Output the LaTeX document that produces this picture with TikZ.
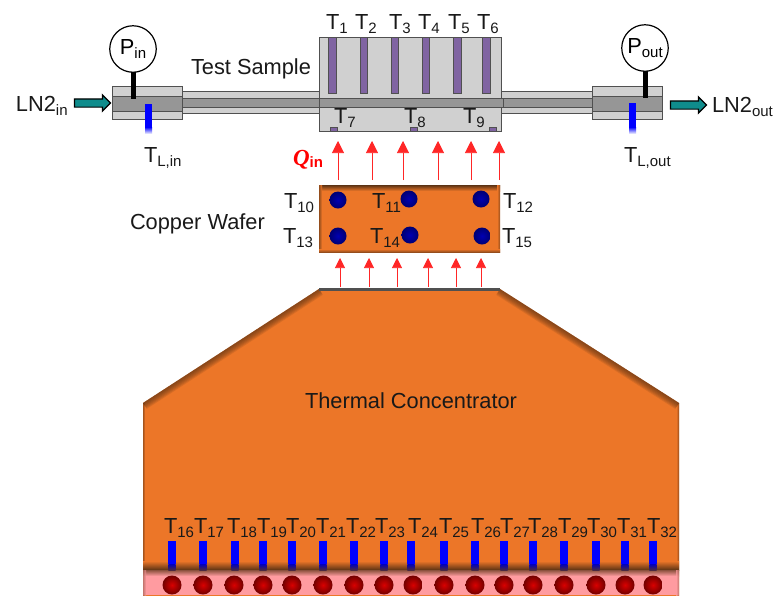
\documentclass[tikz,border=0pt]{standalone}
\usepackage{fontspec}
\setmainfont{Liberation Sans}
\newfontfamily\qfont{Liberation Serif}
\usepackage{tikz}
\usetikzlibrary{arrows.meta,positioning,shapes.arrows}

\definecolor{copper}{RGB}{236,118,40}
\definecolor{rim}{RGB}{90,50,20}
\definecolor{lightbar}{RGB}{208,208,208}
\definecolor{darkbar}{RGB}{150,150,150}
\definecolor{edgegrey}{RGB}{80,80,80}
\definecolor{sensor}{RGB}{128,100,162}
\definecolor{flow}{RGB}{15,140,140}
\definecolor{heater}{RGB}{255,155,160}

\newcommand{\lowtxt}[1]{\raisebox{-4.5pt}{\fontsize{15}{15}\selectfont #1}}

\begin{document}
\begin{tikzpicture}[
  x=1pt, y=-1pt,
  every node/.style={inner sep=0pt, outer sep=0pt},
  txt/.style={anchor=base west, font=\fontsize{21.8}{21.8}\selectfont, text=black!90},
  block/.style={draw=edgegrey, line width=0.9pt, fill=lightbar},
  band/.style={draw=edgegrey, line width=0.9pt, fill=darkbar},
  probe/.style={draw=edgegrey, line width=0.6pt, fill=sensor},
  gauge/.style={draw, circle, line width=1.2pt, fill=white, minimum size=46.5pt, font=\fontsize{21.8}{21.8}\selectfont},
  stem/.style={line width=5pt, draw=black},
  feed/.style={draw=black, line width=1.2pt, fill=flow, single arrow, single arrow head extend=4pt,
    inner xsep=0pt, inner ysep=3.5pt, minimum height=36pt},
  heat/.style={-{Triangle[length=12pt,width=12pt]}, red!85!white, line width=0.6pt},
  heatlow/.style={-{Triangle[length=10pt,width=10pt]}, red!85!white, line width=0.6pt},
  cool/.style={circle, minimum size=17pt, inner color=blue!70!black, outer color=blue!45!black},
  hot/.style={circle, minimum size=19pt, inner color=red!85!black, outer color=red!45!black}
]
\useasboundingbox (0,0) rectangle (773,595);

% concentrator and heater
\def\concpath{(143,403) -- (319,289) -- (500,289) -- (679,403) -- (679,600) -- (143,600) -- cycle}
\fill[copper] \concpath;
\begin{scope}
  \clip \concpath;
  \foreach \w in {2,4,...,14}
    \draw[rim, opacity=0.14, line width=\w pt] (143,403) -- (319,289) (500,289) -- (679,403);
  \foreach \w in {1,2,3,4}
    \draw[rim, opacity=0.15, line width=\w pt] (143,403) -- (143,570) (679,403) -- (679,570);
\end{scope}
\shade[top color=copper, bottom color=rim] (143,561) rectangle (679,570);
\fill[heater] (143,570) rectangle (679,595);
\shade[top color=rim!70!heater, bottom color=heater] (143,570) rectangle (679,576);
\shade[left color=rim!50!heater, right color=heater, opacity=0.7] (143,570) rectangle (146,595);
\shade[left color=heater, right color=rim!50!heater, opacity=0.7] (676,570) rectangle (679,595);
\fill[edgegrey] (319,288) rectangle (500,291);
\foreach \x [count=\i] in {172,203,235,263,292,323,354,384,411,444,475,504,533,564,596,625,653} {
  \fill[blue] (\x-3.7,541) rectangle (\x+3.7,564);
  \shade[top color=blue!75!black, bottom color=rim!80!blue] (\x-3.7,564) rectangle (\x+3.7,570);
}
\foreach \x [count=\i] in {172,203,234,263,292,323,354,384,413,444,475,504,533,564,596,625,653}
  \node[hot] (h\i) at (\x,585) {};
\foreach \x [count=\i from 16] in {164,194,227,257,286,316,346,375,408,439,471,500,528,558,587,617,647}
  \node[txt] (t\i) at (\x,533) {T\lowtxt{\i}};
\node[txt] (conclabel) at (305,408) {Thermal Concentrator};

% copper wafer
\fill[copper] (319,185) rectangle (500,252);
\shade[top color=rim, bottom color=copper] (319,185) rectangle (500,191);
\shade[left color=rim!60!copper, right color=copper] (319,185) rectangle (322,252);
\shade[left color=copper, right color=rim!60!copper] (497,185) rectangle (500,252);
\shade[top color=copper, bottom color=rim!60!copper] (319,249) rectangle (500,252);
\node[cool] (c10) at (338,200) {};
\node[cool] (c11) at (409,199) {};
\node[cool] (c12) at (481,199) {};
\node[cool] (c13) at (338,236) {};
\node[cool] (c14) at (410,235) {};
\node[cool] (c15) at (482,236) {};
\node[txt] (t10) at (284,208) {T\lowtxt{10}};
\node[txt] (t11) at (372,208) {T\lowtxt{11}};
\node[txt] (t12) at (503,208) {T\lowtxt{12}};
\node[txt] (t13) at (283,243) {T\lowtxt{13}};
\node[txt] (t14) at (370,243) {T\lowtxt{14}};
\node[txt] (t15) at (502,243) {T\lowtxt{15}};
\node[txt] (waferlabel) at (130,229) {Copper Wafer};

% heat flow
\foreach \x [count=\i] in {338,372,403,438,471,499} {
  \coordinate (qa\i) at (\x,180);
  \coordinate (qb\i) at (\x,141);
  \draw[heat] (qa\i) -- (qb\i);
}
\foreach \x [count=\i] in {340,369,397,428,456,481} {
  \coordinate (ra\i) at (\x,287);
  \coordinate (rb\i) at (\x,258);
  \draw[heatlow] (ra\i) -- (rb\i);
}
\node[anchor=base west, text=red] (qin) at (293,165)
  {\fontsize{23}{23}\selectfont\qfont\bfseries\itshape Q\raisebox{-2pt}{\fontsize{15}{15}\selectfont\rmfamily\upshape\bfseries in}};

% tubes and test sample
\draw[block] (182,91) rectangle (319,113);
\draw[band] (182,98) rectangle (319,107);
\draw[block] (501,91) rectangle (592,113);
\draw[band] (501,98) rectangle (592,107);
\draw[block] (319,37) rectangle (501,131);
\draw[band] (319,98) rectangle (503,107);
\foreach \xa/\xb in {328/336,360/367,391/398,422/429,453/461,482/490}
  \draw[probe] (\xa,37) rectangle (\xb,93);
\foreach \xa/\xb in {330/337,410/417,489/496}
  \draw[probe] (\xa,127) rectangle (\xb,131);
\foreach \x [count=\i] in {326,355,389,418,448,477}
  \node[txt] (t\i) at (\x,29) {T\lowtxt{\i}};
\node[txt] (t7) at (334,123) {T\lowtxt{7}};
\node[txt] (t8) at (404,123) {T\lowtxt{8}};
\node[txt] (t9) at (463,123) {T\lowtxt{9}};
\node[txt] (samplelabel) at (191,74) {Test Sample};

% inlet
\draw[block] (112,86) rectangle (182,119);
\draw[band] (112,96) rectangle (182,111);
\fill[blue] (145,104) rectangle (152,127);
\shade[top color=blue, bottom color=white] (145,127) rectangle (152,134);
\node[gauge] (pin) at (133,49) {P\lowtxt{in}};
\coordinate (pinend) at (133,99);
\draw[stem] (pin) -- (pinend);
\node[feed] (feedin) at (90.5,103) {};
\node[txt] (lnin) at (16,111) {LN2\lowtxt{in}};
\node[txt] (tlin) at (144,162) {T\lowtxt{L,in}};

% outlet
\draw[block] (592,86) rectangle (662,119);
\draw[band] (592,96) rectangle (662,111);
\fill[blue] (629,103) rectangle (636,127);
\shade[top color=blue, bottom color=white] (629,127) rectangle (636,134);
\node[gauge] (pout) at (645,48) {P\lowtxt{out}};
\coordinate (poutend) at (645,98);
\draw[stem] (pout) -- (poutend);
\node[feed] (feedout) at (686.5,105) {};
\node[txt] (lnout) at (712,112) {LN2\lowtxt{out}};
\node[txt] (tlout) at (624,162) {T\lowtxt{L,out}};
\end{tikzpicture}
\end{document}
